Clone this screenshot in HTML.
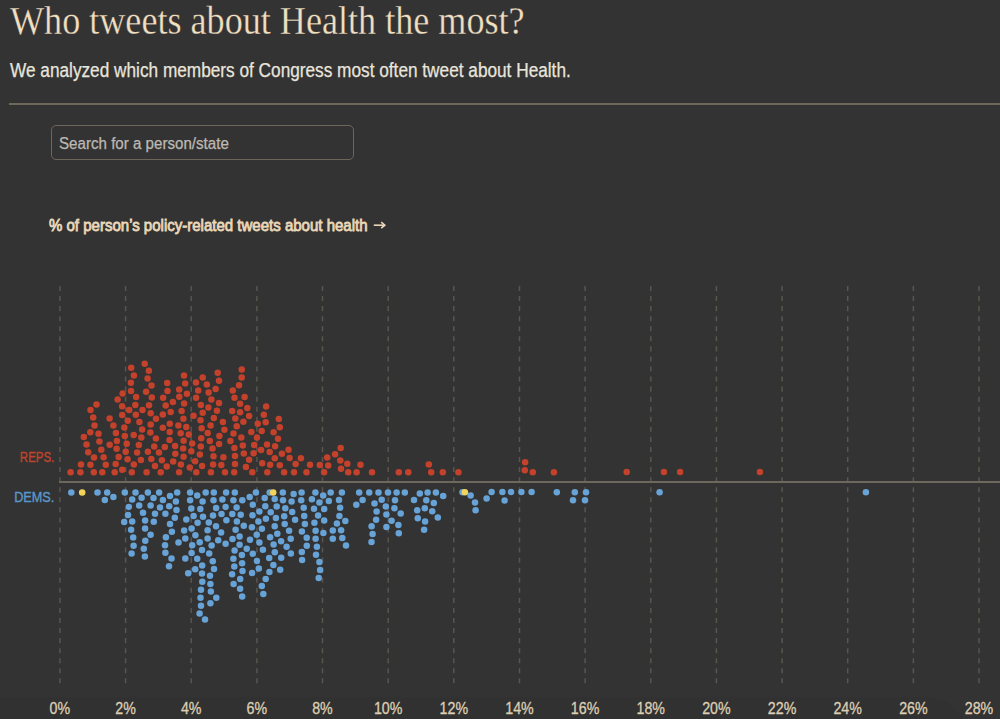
<!DOCTYPE html>
<html><head><meta charset="utf-8">
<style>
html,body{margin:0;padding:0;width:1000px;height:719px;overflow:hidden;background:#333333;}
body{position:relative;font-family:"Liberation Sans",sans-serif;}
.t{position:absolute;white-space:nowrap;transform-origin:0 0;line-height:1;}
#title{left:9.5px;top:1px;font-family:"Liberation Serif",serif;font-size:40px;color:#f1dfc1;transform:scaleX(0.903);-webkit-text-stroke:0.3px #333333;}
#sub{left:10px;top:60.7px;font-size:19.5px;color:#e9e5dd;transform:scaleX(0.8834);-webkit-text-stroke:0.25px #e9e5dd;}
#rule{position:absolute;left:9px;top:103px;width:991px;height:2px;background:#6f675c;}
#search{position:absolute;left:51px;top:125px;width:301px;height:33px;border:1.5px solid #6e665b;border-radius:5px;}
#ph{left:59px;top:136px;font-size:15.6px;color:#bdb9b2;transform:scaleX(0.97);-webkit-text-stroke:0.25px #bdb9b2;}
#axl{left:49px;top:217px;font-size:16.2px;color:#ead8b9;-webkit-text-stroke:0.8px #ead8b9;transform:scaleX(0.9276);}
</style></head><body>
<div style="position:absolute;left:-40px;top:697px;width:1008px;height:120px;background:#313131;border-top-right-radius:42px;"></div>
<div id="title" class="t">Who tweets about Health the most?</div>
<div id="sub" class="t">We analyzed which members of Congress most often tweet about Health.</div>
<div id="rule"></div>
<div id="search"></div>
<div id="ph" class="t">Search for a person/state</div>
<div id="axl" class="t">% of person’s policy-related tweets about health</div>
<svg style="position:absolute;left:372px;top:219px" width="16" height="12"><path d="M1.8 6.2 H12.4" stroke="#ead8b9" stroke-width="1.6"/><path d="M9.2 3.2 L12.8 6.2 L9.2 9.2" fill="none" stroke="#ead8b9" stroke-width="1.6"/></svg>
<svg id="chart" width="1000" height="719" style="position:absolute;left:0;top:0">
<line x1="59.9" y1="286" x2="59.9" y2="684" stroke="#5a554e" stroke-width="1.5" stroke-dasharray="5.03 5.03"/>
<line x1="125.6" y1="286" x2="125.6" y2="684" stroke="#5a554e" stroke-width="1.5" stroke-dasharray="5.03 5.03"/>
<line x1="191.2" y1="286" x2="191.2" y2="684" stroke="#5a554e" stroke-width="1.5" stroke-dasharray="5.03 5.03"/>
<line x1="256.9" y1="286" x2="256.9" y2="684" stroke="#5a554e" stroke-width="1.5" stroke-dasharray="5.03 5.03"/>
<line x1="322.5" y1="286" x2="322.5" y2="684" stroke="#5a554e" stroke-width="1.5" stroke-dasharray="5.03 5.03"/>
<line x1="388.2" y1="286" x2="388.2" y2="684" stroke="#5a554e" stroke-width="1.5" stroke-dasharray="5.03 5.03"/>
<line x1="453.8" y1="286" x2="453.8" y2="684" stroke="#5a554e" stroke-width="1.5" stroke-dasharray="5.03 5.03"/>
<line x1="519.5" y1="286" x2="519.5" y2="684" stroke="#5a554e" stroke-width="1.5" stroke-dasharray="5.03 5.03"/>
<line x1="585.1" y1="286" x2="585.1" y2="684" stroke="#5a554e" stroke-width="1.5" stroke-dasharray="5.03 5.03"/>
<line x1="650.8" y1="286" x2="650.8" y2="684" stroke="#5a554e" stroke-width="1.5" stroke-dasharray="5.03 5.03"/>
<line x1="716.4" y1="286" x2="716.4" y2="684" stroke="#5a554e" stroke-width="1.5" stroke-dasharray="5.03 5.03"/>
<line x1="782.1" y1="286" x2="782.1" y2="684" stroke="#5a554e" stroke-width="1.5" stroke-dasharray="5.03 5.03"/>
<line x1="847.7" y1="286" x2="847.7" y2="684" stroke="#5a554e" stroke-width="1.5" stroke-dasharray="5.03 5.03"/>
<line x1="913.4" y1="286" x2="913.4" y2="684" stroke="#5a554e" stroke-width="1.5" stroke-dasharray="5.03 5.03"/>
<line x1="979.0" y1="286" x2="979.0" y2="684" stroke="#5a554e" stroke-width="1.5" stroke-dasharray="5.03 5.03"/>
<line x1="59" y1="482" x2="1000" y2="482" stroke="#6e675d" stroke-width="2"/>
<text x="54.3" y="462.2" text-anchor="end" font-family="Liberation Sans" font-size="14" fill="#c0442b" stroke="#c0442b" stroke-width="0.35" transform="translate(54.3 0) scale(0.82 1) translate(-54.3 0)">REPS.</text>
<text x="54.3" y="502.4" text-anchor="end" font-family="Liberation Sans" font-size="14.5" fill="#5a98cc" stroke="#5a98cc" stroke-width="0.35" transform="translate(54.3 0) scale(0.874 1) translate(-54.3 0)">DEMS.</text>
<circle cx="70.6" cy="472.2" r="3.25" fill="#c4412b"/>
<circle cx="80.4" cy="472.2" r="3.25" fill="#c4412b"/>
<circle cx="93.8" cy="472.2" r="3.25" fill="#c4412b"/>
<circle cx="102.3" cy="472.2" r="3.25" fill="#c4412b"/>
<circle cx="114.7" cy="472.2" r="3.25" fill="#c4412b"/>
<circle cx="122.2" cy="469.7" r="3.25" fill="#c4412b"/>
<circle cx="131.8" cy="472.2" r="3.25" fill="#c4412b"/>
<circle cx="81.0" cy="464.5" r="3.25" fill="#c4412b"/>
<circle cx="90.4" cy="464.8" r="3.25" fill="#c4412b"/>
<circle cx="105.8" cy="464.8" r="3.25" fill="#c4412b"/>
<circle cx="115.7" cy="464.1" r="3.25" fill="#c4412b"/>
<circle cx="133.8" cy="464.5" r="3.25" fill="#c4412b"/>
<circle cx="94.0" cy="457.6" r="3.25" fill="#c4412b"/>
<circle cx="103.6" cy="457.2" r="3.25" fill="#c4412b"/>
<circle cx="118.7" cy="457.0" r="3.25" fill="#c4412b"/>
<circle cx="127.6" cy="459.2" r="3.25" fill="#c4412b"/>
<circle cx="88.2" cy="452.2" r="3.25" fill="#c4412b"/>
<circle cx="101.3" cy="449.7" r="3.25" fill="#c4412b"/>
<circle cx="116.6" cy="448.8" r="3.25" fill="#c4412b"/>
<circle cx="125.7" cy="451.7" r="3.25" fill="#c4412b"/>
<circle cx="86.5" cy="444.4" r="3.25" fill="#c4412b"/>
<circle cx="99.4" cy="441.6" r="3.25" fill="#c4412b"/>
<circle cx="109.7" cy="444.7" r="3.25" fill="#c4412b"/>
<circle cx="116.9" cy="441.1" r="3.25" fill="#c4412b"/>
<circle cx="126.7" cy="443.8" r="3.25" fill="#c4412b"/>
<circle cx="83.8" cy="436.9" r="3.25" fill="#c4412b"/>
<circle cx="98.5" cy="433.8" r="3.25" fill="#c4412b"/>
<circle cx="90.3" cy="432.2" r="3.25" fill="#c4412b"/>
<circle cx="115.9" cy="432.9" r="3.25" fill="#c4412b"/>
<circle cx="124.8" cy="435.9" r="3.25" fill="#c4412b"/>
<circle cx="133.7" cy="435.1" r="3.25" fill="#c4412b"/>
<circle cx="124.3" cy="427.5" r="3.25" fill="#c4412b"/>
<circle cx="94.5" cy="425.4" r="3.25" fill="#c4412b"/>
<circle cx="113.4" cy="425.4" r="3.25" fill="#c4412b"/>
<circle cx="93.2" cy="417.5" r="3.25" fill="#c4412b"/>
<circle cx="109.6" cy="418.4" r="3.25" fill="#c4412b"/>
<circle cx="122.2" cy="415.0" r="3.25" fill="#c4412b"/>
<circle cx="127.8" cy="420.7" r="3.25" fill="#c4412b"/>
<circle cx="135.8" cy="414.7" r="3.25" fill="#c4412b"/>
<circle cx="90.5" cy="410.0" r="3.25" fill="#c4412b"/>
<circle cx="129.2" cy="410.0" r="3.25" fill="#c4412b"/>
<circle cx="96.5" cy="404.6" r="3.25" fill="#c4412b"/>
<circle cx="122.1" cy="406.3" r="3.25" fill="#c4412b"/>
<circle cx="135.3" cy="405.0" r="3.25" fill="#c4412b"/>
<circle cx="117.6" cy="399.4" r="3.25" fill="#c4412b"/>
<circle cx="122.6" cy="393.4" r="3.25" fill="#c4412b"/>
<circle cx="136.1" cy="396.9" r="3.25" fill="#c4412b"/>
<circle cx="131.0" cy="391.0" r="3.25" fill="#c4412b"/>
<circle cx="146.6" cy="472.2" r="3.25" fill="#c4412b"/>
<circle cx="160.7" cy="472.2" r="3.25" fill="#c4412b"/>
<circle cx="179.1" cy="472.2" r="3.25" fill="#c4412b"/>
<circle cx="196.3" cy="472.2" r="3.25" fill="#c4412b"/>
<circle cx="155.0" cy="466.0" r="3.25" fill="#c4412b"/>
<circle cx="166.7" cy="466.6" r="3.25" fill="#c4412b"/>
<circle cx="180.9" cy="464.5" r="3.25" fill="#c4412b"/>
<circle cx="189.8" cy="467.6" r="3.25" fill="#c4412b"/>
<circle cx="202.1" cy="466.0" r="3.25" fill="#c4412b"/>
<circle cx="140.9" cy="460.1" r="3.25" fill="#c4412b"/>
<circle cx="151.3" cy="459.1" r="3.25" fill="#c4412b"/>
<circle cx="161.9" cy="460.3" r="3.25" fill="#c4412b"/>
<circle cx="173.2" cy="461.6" r="3.25" fill="#c4412b"/>
<circle cx="195.1" cy="461.3" r="3.25" fill="#c4412b"/>
<circle cx="137.1" cy="452.6" r="3.25" fill="#c4412b"/>
<circle cx="147.9" cy="451.7" r="3.25" fill="#c4412b"/>
<circle cx="159.0" cy="452.6" r="3.25" fill="#c4412b"/>
<circle cx="175.3" cy="453.8" r="3.25" fill="#c4412b"/>
<circle cx="183.6" cy="456.7" r="3.25" fill="#c4412b"/>
<circle cx="191.3" cy="451.3" r="3.25" fill="#c4412b"/>
<circle cx="199.9" cy="454.5" r="3.25" fill="#c4412b"/>
<circle cx="138.8" cy="445.1" r="3.25" fill="#c4412b"/>
<circle cx="154.2" cy="446.6" r="3.25" fill="#c4412b"/>
<circle cx="164.8" cy="446.9" r="3.25" fill="#c4412b"/>
<circle cx="175.1" cy="445.9" r="3.25" fill="#c4412b"/>
<circle cx="183.2" cy="448.6" r="3.25" fill="#c4412b"/>
<circle cx="192.2" cy="443.4" r="3.25" fill="#c4412b"/>
<circle cx="200.8" cy="446.4" r="3.25" fill="#c4412b"/>
<circle cx="141.3" cy="437.6" r="3.25" fill="#c4412b"/>
<circle cx="155.9" cy="438.6" r="3.25" fill="#c4412b"/>
<circle cx="169.5" cy="440.1" r="3.25" fill="#c4412b"/>
<circle cx="183.6" cy="440.7" r="3.25" fill="#c4412b"/>
<circle cx="201.2" cy="438.2" r="3.25" fill="#c4412b"/>
<circle cx="142.1" cy="429.4" r="3.25" fill="#c4412b"/>
<circle cx="150.4" cy="432.6" r="3.25" fill="#c4412b"/>
<circle cx="169.7" cy="431.9" r="3.25" fill="#c4412b"/>
<circle cx="180.7" cy="433.2" r="3.25" fill="#c4412b"/>
<circle cx="188.8" cy="434.4" r="3.25" fill="#c4412b"/>
<circle cx="207.7" cy="432.9" r="3.25" fill="#c4412b"/>
<circle cx="139.4" cy="421.9" r="3.25" fill="#c4412b"/>
<circle cx="150.7" cy="424.4" r="3.25" fill="#c4412b"/>
<circle cx="162.8" cy="427.8" r="3.25" fill="#c4412b"/>
<circle cx="169.8" cy="423.8" r="3.25" fill="#c4412b"/>
<circle cx="178.4" cy="425.4" r="3.25" fill="#c4412b"/>
<circle cx="186.3" cy="426.9" r="3.25" fill="#c4412b"/>
<circle cx="201.6" cy="428.2" r="3.25" fill="#c4412b"/>
<circle cx="156.0" cy="418.8" r="3.25" fill="#c4412b"/>
<circle cx="150.7" cy="413.2" r="3.25" fill="#c4412b"/>
<circle cx="162.8" cy="414.4" r="3.25" fill="#c4412b"/>
<circle cx="170.7" cy="411.9" r="3.25" fill="#c4412b"/>
<circle cx="183.4" cy="418.8" r="3.25" fill="#c4412b"/>
<circle cx="193.5" cy="415.7" r="3.25" fill="#c4412b"/>
<circle cx="200.5" cy="420.2" r="3.25" fill="#c4412b"/>
<circle cx="202.7" cy="412.8" r="3.25" fill="#c4412b"/>
<circle cx="142.5" cy="410.0" r="3.25" fill="#c4412b"/>
<circle cx="149.0" cy="405.3" r="3.25" fill="#c4412b"/>
<circle cx="165.7" cy="405.6" r="3.25" fill="#c4412b"/>
<circle cx="181.6" cy="410.9" r="3.25" fill="#c4412b"/>
<circle cx="200.8" cy="405.1" r="3.25" fill="#c4412b"/>
<circle cx="208.4" cy="407.5" r="3.25" fill="#c4412b"/>
<circle cx="151.8" cy="397.5" r="3.25" fill="#c4412b"/>
<circle cx="163.1" cy="397.7" r="3.25" fill="#c4412b"/>
<circle cx="172.9" cy="402.1" r="3.25" fill="#c4412b"/>
<circle cx="179.3" cy="396.7" r="3.25" fill="#c4412b"/>
<circle cx="184.1" cy="403.4" r="3.25" fill="#c4412b"/>
<circle cx="196.1" cy="397.8" r="3.25" fill="#c4412b"/>
<circle cx="186.9" cy="393.8" r="3.25" fill="#c4412b"/>
<circle cx="146.1" cy="391.8" r="3.25" fill="#c4412b"/>
<circle cx="167.5" cy="391.1" r="3.25" fill="#c4412b"/>
<circle cx="198.2" cy="390.6" r="3.25" fill="#c4412b"/>
<circle cx="208.6" cy="392.5" r="3.25" fill="#c4412b"/>
<circle cx="179.2" cy="389.4" r="3.25" fill="#c4412b"/>
<circle cx="210.9" cy="472.2" r="3.25" fill="#c4412b"/>
<circle cx="225.0" cy="472.2" r="3.25" fill="#c4412b"/>
<circle cx="234.2" cy="472.2" r="3.25" fill="#c4412b"/>
<circle cx="252.3" cy="472.2" r="3.25" fill="#c4412b"/>
<circle cx="267.3" cy="472.2" r="3.25" fill="#c4412b"/>
<circle cx="284.1" cy="472.2" r="3.25" fill="#c4412b"/>
<circle cx="213.1" cy="464.5" r="3.25" fill="#c4412b"/>
<circle cx="221.3" cy="465.1" r="3.25" fill="#c4412b"/>
<circle cx="235.0" cy="464.1" r="3.25" fill="#c4412b"/>
<circle cx="245.9" cy="467.0" r="3.25" fill="#c4412b"/>
<circle cx="262.2" cy="463.2" r="3.25" fill="#c4412b"/>
<circle cx="270.1" cy="464.7" r="3.25" fill="#c4412b"/>
<circle cx="279.8" cy="465.3" r="3.25" fill="#c4412b"/>
<circle cx="213.5" cy="456.3" r="3.25" fill="#c4412b"/>
<circle cx="223.4" cy="457.2" r="3.25" fill="#c4412b"/>
<circle cx="235.0" cy="456.0" r="3.25" fill="#c4412b"/>
<circle cx="249.1" cy="459.7" r="3.25" fill="#c4412b"/>
<circle cx="274.8" cy="458.2" r="3.25" fill="#c4412b"/>
<circle cx="289.6" cy="458.1" r="3.25" fill="#c4412b"/>
<circle cx="243.8" cy="453.5" r="3.25" fill="#c4412b"/>
<circle cx="253.6" cy="453.2" r="3.25" fill="#c4412b"/>
<circle cx="261.1" cy="450.1" r="3.25" fill="#c4412b"/>
<circle cx="269.7" cy="452.0" r="3.25" fill="#c4412b"/>
<circle cx="281.9" cy="453.8" r="3.25" fill="#c4412b"/>
<circle cx="288.5" cy="449.8" r="3.25" fill="#c4412b"/>
<circle cx="212.5" cy="448.4" r="3.25" fill="#c4412b"/>
<circle cx="219.1" cy="444.1" r="3.25" fill="#c4412b"/>
<circle cx="234.4" cy="447.9" r="3.25" fill="#c4412b"/>
<circle cx="242.8" cy="445.4" r="3.25" fill="#c4412b"/>
<circle cx="254.2" cy="445.1" r="3.25" fill="#c4412b"/>
<circle cx="267.0" cy="444.4" r="3.25" fill="#c4412b"/>
<circle cx="275.1" cy="446.3" r="3.25" fill="#c4412b"/>
<circle cx="209.8" cy="440.9" r="3.25" fill="#c4412b"/>
<circle cx="219.4" cy="436.1" r="3.25" fill="#c4412b"/>
<circle cx="230.4" cy="441.1" r="3.25" fill="#c4412b"/>
<circle cx="241.3" cy="437.6" r="3.25" fill="#c4412b"/>
<circle cx="256.9" cy="437.6" r="3.25" fill="#c4412b"/>
<circle cx="278.0" cy="438.8" r="3.25" fill="#c4412b"/>
<circle cx="224.4" cy="429.8" r="3.25" fill="#c4412b"/>
<circle cx="233.5" cy="433.6" r="3.25" fill="#c4412b"/>
<circle cx="251.3" cy="431.9" r="3.25" fill="#c4412b"/>
<circle cx="261.7" cy="430.9" r="3.25" fill="#c4412b"/>
<circle cx="273.6" cy="432.2" r="3.25" fill="#c4412b"/>
<circle cx="279.8" cy="427.2" r="3.25" fill="#c4412b"/>
<circle cx="210.6" cy="425.4" r="3.25" fill="#c4412b"/>
<circle cx="222.9" cy="421.9" r="3.25" fill="#c4412b"/>
<circle cx="236.7" cy="426.3" r="3.25" fill="#c4412b"/>
<circle cx="243.4" cy="421.7" r="3.25" fill="#c4412b"/>
<circle cx="257.7" cy="423.8" r="3.25" fill="#c4412b"/>
<circle cx="265.7" cy="422.3" r="3.25" fill="#c4412b"/>
<circle cx="278.8" cy="419.0" r="3.25" fill="#c4412b"/>
<circle cx="213.8" cy="417.9" r="3.25" fill="#c4412b"/>
<circle cx="235.3" cy="418.4" r="3.25" fill="#c4412b"/>
<circle cx="249.1" cy="415.9" r="3.25" fill="#c4412b"/>
<circle cx="263.8" cy="414.7" r="3.25" fill="#c4412b"/>
<circle cx="216.9" cy="410.7" r="3.25" fill="#c4412b"/>
<circle cx="232.2" cy="410.9" r="3.25" fill="#c4412b"/>
<circle cx="240.1" cy="412.2" r="3.25" fill="#c4412b"/>
<circle cx="247.3" cy="407.9" r="3.25" fill="#c4412b"/>
<circle cx="266.1" cy="406.6" r="3.25" fill="#c4412b"/>
<circle cx="219.0" cy="402.9" r="3.25" fill="#c4412b"/>
<circle cx="240.1" cy="403.8" r="3.25" fill="#c4412b"/>
<circle cx="211.4" cy="399.5" r="3.25" fill="#c4412b"/>
<circle cx="234.5" cy="397.8" r="3.25" fill="#c4412b"/>
<circle cx="244.6" cy="397.1" r="3.25" fill="#c4412b"/>
<circle cx="215.6" cy="389.0" r="3.25" fill="#c4412b"/>
<circle cx="232.8" cy="390.6" r="3.25" fill="#c4412b"/>
<circle cx="294.0" cy="472.2" r="3.25" fill="#c4412b"/>
<circle cx="306.5" cy="472.2" r="3.25" fill="#c4412b"/>
<circle cx="324.1" cy="472.2" r="3.25" fill="#c4412b"/>
<circle cx="348.2" cy="472.2" r="3.25" fill="#c4412b"/>
<circle cx="356.6" cy="472.2" r="3.25" fill="#c4412b"/>
<circle cx="295.6" cy="464.1" r="3.25" fill="#c4412b"/>
<circle cx="310.0" cy="464.7" r="3.25" fill="#c4412b"/>
<circle cx="319.8" cy="465.1" r="3.25" fill="#c4412b"/>
<circle cx="328.2" cy="465.5" r="3.25" fill="#c4412b"/>
<circle cx="341.0" cy="468.8" r="3.25" fill="#c4412b"/>
<circle cx="347.3" cy="463.8" r="3.25" fill="#c4412b"/>
<circle cx="360.5" cy="464.8" r="3.25" fill="#c4412b"/>
<circle cx="300.9" cy="458.2" r="3.25" fill="#c4412b"/>
<circle cx="327.2" cy="457.6" r="3.25" fill="#c4412b"/>
<circle cx="340.3" cy="460.5" r="3.25" fill="#c4412b"/>
<circle cx="335.1" cy="454.2" r="3.25" fill="#c4412b"/>
<circle cx="340.7" cy="447.9" r="3.25" fill="#c4412b"/>
<circle cx="372.0" cy="472.2" r="3.25" fill="#c4412b"/>
<circle cx="398.8" cy="472.2" r="3.25" fill="#c4412b"/>
<circle cx="408.3" cy="472.2" r="3.25" fill="#c4412b"/>
<circle cx="428.8" cy="464.6" r="3.25" fill="#c4412b"/>
<circle cx="431.2" cy="472.2" r="3.25" fill="#c4412b"/>
<circle cx="442.8" cy="472.2" r="3.25" fill="#c4412b"/>
<circle cx="458.4" cy="472.2" r="3.25" fill="#c4412b"/>
<circle cx="525.1" cy="462.2" r="3.25" fill="#c4412b"/>
<circle cx="524.8" cy="470.3" r="3.25" fill="#c4412b"/>
<circle cx="532.8" cy="472.3" r="3.25" fill="#c4412b"/>
<circle cx="553.9" cy="472.3" r="3.25" fill="#c4412b"/>
<circle cx="626.7" cy="472.1" r="3.25" fill="#c4412b"/>
<circle cx="663.9" cy="472.1" r="3.25" fill="#c4412b"/>
<circle cx="680.1" cy="472.1" r="3.25" fill="#c4412b"/>
<circle cx="759.9" cy="472.1" r="3.25" fill="#c4412b"/>
<circle cx="131.2" cy="367.7" r="3.25" fill="#c4412b"/>
<circle cx="133.9" cy="375.5" r="3.25" fill="#c4412b"/>
<circle cx="130.9" cy="382.7" r="3.25" fill="#c4412b"/>
<circle cx="144.7" cy="363.8" r="3.25" fill="#c4412b"/>
<circle cx="148.9" cy="370.7" r="3.25" fill="#c4412b"/>
<circle cx="147.6" cy="378.6" r="3.25" fill="#c4412b"/>
<circle cx="151.5" cy="385.6" r="3.25" fill="#c4412b"/>
<circle cx="167.2" cy="383.0" r="3.25" fill="#c4412b"/>
<circle cx="184.0" cy="375.5" r="3.25" fill="#c4412b"/>
<circle cx="185.2" cy="383.5" r="3.25" fill="#c4412b"/>
<circle cx="196.0" cy="382.5" r="3.25" fill="#c4412b"/>
<circle cx="202.7" cy="377.5" r="3.25" fill="#c4412b"/>
<circle cx="206.8" cy="384.5" r="3.25" fill="#c4412b"/>
<circle cx="217.7" cy="372.7" r="3.25" fill="#c4412b"/>
<circle cx="219.0" cy="380.7" r="3.25" fill="#c4412b"/>
<circle cx="241.7" cy="369.5" r="3.25" fill="#c4412b"/>
<circle cx="241.7" cy="377.5" r="3.25" fill="#c4412b"/>
<circle cx="239.0" cy="385.2" r="3.25" fill="#c4412b"/>
<circle cx="71.3" cy="492.4" r="3.25" fill="#67a3d6"/>
<circle cx="97.5" cy="492.4" r="3.25" fill="#67a3d6"/>
<circle cx="107.2" cy="492.4" r="3.25" fill="#67a3d6"/>
<circle cx="124.8" cy="492.4" r="3.25" fill="#67a3d6"/>
<circle cx="135.5" cy="492.4" r="3.25" fill="#67a3d6"/>
<circle cx="147.9" cy="492.4" r="3.25" fill="#67a3d6"/>
<circle cx="113.4" cy="497.1" r="3.25" fill="#67a3d6"/>
<circle cx="141.6" cy="497.8" r="3.25" fill="#67a3d6"/>
<circle cx="104.8" cy="500.0" r="3.25" fill="#67a3d6"/>
<circle cx="132.2" cy="499.6" r="3.25" fill="#67a3d6"/>
<circle cx="128.8" cy="506.9" r="3.25" fill="#67a3d6"/>
<circle cx="139.2" cy="505.5" r="3.25" fill="#67a3d6"/>
<circle cx="128.0" cy="514.9" r="3.25" fill="#67a3d6"/>
<circle cx="143.0" cy="512.8" r="3.25" fill="#67a3d6"/>
<circle cx="124.2" cy="521.9" r="3.25" fill="#67a3d6"/>
<circle cx="132.2" cy="521.5" r="3.25" fill="#67a3d6"/>
<circle cx="145.1" cy="520.5" r="3.25" fill="#67a3d6"/>
<circle cx="131.1" cy="529.7" r="3.25" fill="#67a3d6"/>
<circle cx="145.1" cy="528.4" r="3.25" fill="#67a3d6"/>
<circle cx="133.2" cy="537.6" r="3.25" fill="#67a3d6"/>
<circle cx="145.3" cy="540.8" r="3.25" fill="#67a3d6"/>
<circle cx="133.6" cy="545.7" r="3.25" fill="#67a3d6"/>
<circle cx="143.8" cy="548.7" r="3.25" fill="#67a3d6"/>
<circle cx="131.6" cy="553.5" r="3.25" fill="#67a3d6"/>
<circle cx="144.9" cy="556.6" r="3.25" fill="#67a3d6"/>
<circle cx="153.5" cy="498.1" r="3.25" fill="#67a3d6"/>
<circle cx="150.6" cy="505.5" r="3.25" fill="#67a3d6"/>
<circle cx="155.0" cy="513.7" r="3.25" fill="#67a3d6"/>
<circle cx="153.8" cy="521.8" r="3.25" fill="#67a3d6"/>
<circle cx="150.6" cy="534.7" r="3.25" fill="#67a3d6"/>
<circle cx="159.1" cy="492.4" r="3.25" fill="#67a3d6"/>
<circle cx="162.9" cy="499.9" r="3.25" fill="#67a3d6"/>
<circle cx="160.0" cy="507.4" r="3.25" fill="#67a3d6"/>
<circle cx="165.4" cy="513.7" r="3.25" fill="#67a3d6"/>
<circle cx="165.9" cy="537.2" r="3.25" fill="#67a3d6"/>
<circle cx="165.0" cy="545.3" r="3.25" fill="#67a3d6"/>
<circle cx="165.4" cy="552.8" r="3.25" fill="#67a3d6"/>
<circle cx="169.0" cy="566.2" r="3.25" fill="#67a3d6"/>
<circle cx="170.0" cy="496.1" r="3.25" fill="#67a3d6"/>
<circle cx="177.2" cy="492.4" r="3.25" fill="#67a3d6"/>
<circle cx="175.9" cy="501.5" r="3.25" fill="#67a3d6"/>
<circle cx="169.2" cy="506.2" r="3.25" fill="#67a3d6"/>
<circle cx="176.5" cy="509.9" r="3.25" fill="#67a3d6"/>
<circle cx="174.8" cy="517.8" r="3.25" fill="#67a3d6"/>
<circle cx="170.0" cy="524.1" r="3.25" fill="#67a3d6"/>
<circle cx="171.9" cy="531.8" r="3.25" fill="#67a3d6"/>
<circle cx="178.5" cy="542.6" r="3.25" fill="#67a3d6"/>
<circle cx="171.5" cy="558.5" r="3.25" fill="#67a3d6"/>
<circle cx="190.1" cy="492.4" r="3.25" fill="#67a3d6"/>
<circle cx="190.1" cy="500.3" r="3.25" fill="#67a3d6"/>
<circle cx="191.3" cy="508.4" r="3.25" fill="#67a3d6"/>
<circle cx="186.3" cy="519.4" r="3.25" fill="#67a3d6"/>
<circle cx="193.6" cy="515.9" r="3.25" fill="#67a3d6"/>
<circle cx="184.1" cy="530.6" r="3.25" fill="#67a3d6"/>
<circle cx="191.6" cy="528.4" r="3.25" fill="#67a3d6"/>
<circle cx="185.3" cy="538.4" r="3.25" fill="#67a3d6"/>
<circle cx="192.2" cy="545.3" r="3.25" fill="#67a3d6"/>
<circle cx="191.6" cy="553.1" r="3.25" fill="#67a3d6"/>
<circle cx="185.3" cy="558.5" r="3.25" fill="#67a3d6"/>
<circle cx="197.2" cy="495.5" r="3.25" fill="#67a3d6"/>
<circle cx="202.6" cy="501.5" r="3.25" fill="#67a3d6"/>
<circle cx="200.3" cy="509.0" r="3.25" fill="#67a3d6"/>
<circle cx="203.0" cy="516.8" r="3.25" fill="#67a3d6"/>
<circle cx="197.6" cy="522.8" r="3.25" fill="#67a3d6"/>
<circle cx="195.4" cy="535.3" r="3.25" fill="#67a3d6"/>
<circle cx="199.7" cy="542.2" r="3.25" fill="#67a3d6"/>
<circle cx="202.0" cy="550.0" r="3.25" fill="#67a3d6"/>
<circle cx="197.2" cy="558.8" r="3.25" fill="#67a3d6"/>
<circle cx="195.2" cy="569.2" r="3.25" fill="#67a3d6"/>
<circle cx="202.2" cy="565.4" r="3.25" fill="#67a3d6"/>
<circle cx="205.7" cy="492.4" r="3.25" fill="#67a3d6"/>
<circle cx="213.8" cy="492.4" r="3.25" fill="#67a3d6"/>
<circle cx="213.5" cy="500.3" r="3.25" fill="#67a3d6"/>
<circle cx="216.1" cy="508.0" r="3.25" fill="#67a3d6"/>
<circle cx="213.0" cy="515.5" r="3.25" fill="#67a3d6"/>
<circle cx="208.8" cy="522.4" r="3.25" fill="#67a3d6"/>
<circle cx="207.6" cy="530.3" r="3.25" fill="#67a3d6"/>
<circle cx="207.6" cy="538.4" r="3.25" fill="#67a3d6"/>
<circle cx="211.6" cy="545.6" r="3.25" fill="#67a3d6"/>
<circle cx="209.2" cy="553.5" r="3.25" fill="#67a3d6"/>
<circle cx="212.8" cy="561.2" r="3.25" fill="#67a3d6"/>
<circle cx="214.0" cy="568.9" r="3.25" fill="#67a3d6"/>
<circle cx="226.1" cy="492.4" r="3.25" fill="#67a3d6"/>
<circle cx="222.4" cy="499.6" r="3.25" fill="#67a3d6"/>
<circle cx="225.6" cy="506.9" r="3.25" fill="#67a3d6"/>
<circle cx="221.5" cy="514.0" r="3.25" fill="#67a3d6"/>
<circle cx="226.4" cy="520.3" r="3.25" fill="#67a3d6"/>
<circle cx="216.0" cy="526.2" r="3.25" fill="#67a3d6"/>
<circle cx="221.1" cy="532.4" r="3.25" fill="#67a3d6"/>
<circle cx="218.2" cy="540.3" r="3.25" fill="#67a3d6"/>
<circle cx="225.6" cy="543.8" r="3.25" fill="#67a3d6"/>
<circle cx="234.8" cy="492.4" r="3.25" fill="#67a3d6"/>
<circle cx="233.4" cy="500.3" r="3.25" fill="#67a3d6"/>
<circle cx="236.6" cy="507.4" r="3.25" fill="#67a3d6"/>
<circle cx="232.3" cy="514.0" r="3.25" fill="#67a3d6"/>
<circle cx="236.9" cy="521.5" r="3.25" fill="#67a3d6"/>
<circle cx="235.6" cy="529.7" r="3.25" fill="#67a3d6"/>
<circle cx="232.5" cy="539.1" r="3.25" fill="#67a3d6"/>
<circle cx="239.6" cy="536.6" r="3.25" fill="#67a3d6"/>
<circle cx="239.6" cy="544.7" r="3.25" fill="#67a3d6"/>
<circle cx="234.6" cy="550.6" r="3.25" fill="#67a3d6"/>
<circle cx="233.4" cy="558.7" r="3.25" fill="#67a3d6"/>
<circle cx="234.3" cy="566.6" r="3.25" fill="#67a3d6"/>
<circle cx="242.3" cy="500.3" r="3.25" fill="#67a3d6"/>
<circle cx="240.7" cy="514.7" r="3.25" fill="#67a3d6"/>
<circle cx="243.8" cy="525.7" r="3.25" fill="#67a3d6"/>
<circle cx="246.7" cy="548.8" r="3.25" fill="#67a3d6"/>
<circle cx="241.9" cy="555.1" r="3.25" fill="#67a3d6"/>
<circle cx="242.1" cy="563.3" r="3.25" fill="#67a3d6"/>
<circle cx="242.5" cy="571.1" r="3.25" fill="#67a3d6"/>
<circle cx="249.7" cy="497.1" r="3.25" fill="#67a3d6"/>
<circle cx="252.8" cy="504.7" r="3.25" fill="#67a3d6"/>
<circle cx="252.5" cy="515.3" r="3.25" fill="#67a3d6"/>
<circle cx="251.9" cy="527.2" r="3.25" fill="#67a3d6"/>
<circle cx="250.0" cy="539.7" r="3.25" fill="#67a3d6"/>
<circle cx="252.8" cy="553.7" r="3.25" fill="#67a3d6"/>
<circle cx="255.9" cy="492.4" r="3.25" fill="#67a3d6"/>
<circle cx="259.4" cy="511.5" r="3.25" fill="#67a3d6"/>
<circle cx="258.4" cy="521.5" r="3.25" fill="#67a3d6"/>
<circle cx="261.9" cy="528.8" r="3.25" fill="#67a3d6"/>
<circle cx="256.7" cy="534.7" r="3.25" fill="#67a3d6"/>
<circle cx="259.4" cy="542.6" r="3.25" fill="#67a3d6"/>
<circle cx="262.9" cy="549.7" r="3.25" fill="#67a3d6"/>
<circle cx="256.9" cy="561.0" r="3.25" fill="#67a3d6"/>
<circle cx="258.8" cy="568.5" r="3.25" fill="#67a3d6"/>
<circle cx="264.7" cy="498.1" r="3.25" fill="#67a3d6"/>
<circle cx="265.3" cy="506.2" r="3.25" fill="#67a3d6"/>
<circle cx="265.9" cy="518.7" r="3.25" fill="#67a3d6"/>
<circle cx="269.7" cy="492.4" r="3.25" fill="#67a3d6"/>
<circle cx="274.7" cy="499.0" r="3.25" fill="#67a3d6"/>
<circle cx="276.7" cy="506.5" r="3.25" fill="#67a3d6"/>
<circle cx="270.7" cy="512.2" r="3.25" fill="#67a3d6"/>
<circle cx="275.9" cy="518.0" r="3.25" fill="#67a3d6"/>
<circle cx="274.7" cy="526.2" r="3.25" fill="#67a3d6"/>
<circle cx="277.3" cy="533.7" r="3.25" fill="#67a3d6"/>
<circle cx="270.1" cy="537.2" r="3.25" fill="#67a3d6"/>
<circle cx="273.6" cy="544.5" r="3.25" fill="#67a3d6"/>
<circle cx="274.8" cy="552.2" r="3.25" fill="#67a3d6"/>
<circle cx="269.2" cy="558.1" r="3.25" fill="#67a3d6"/>
<circle cx="273.4" cy="565.0" r="3.25" fill="#67a3d6"/>
<circle cx="282.8" cy="492.4" r="3.25" fill="#67a3d6"/>
<circle cx="283.0" cy="500.3" r="3.25" fill="#67a3d6"/>
<circle cx="285.3" cy="508.2" r="3.25" fill="#67a3d6"/>
<circle cx="284.2" cy="516.2" r="3.25" fill="#67a3d6"/>
<circle cx="284.7" cy="524.1" r="3.25" fill="#67a3d6"/>
<circle cx="289.1" cy="530.7" r="3.25" fill="#67a3d6"/>
<circle cx="281.1" cy="541.2" r="3.25" fill="#67a3d6"/>
<circle cx="290.7" cy="538.7" r="3.25" fill="#67a3d6"/>
<circle cx="286.6" cy="546.7" r="3.25" fill="#67a3d6"/>
<circle cx="290.8" cy="553.5" r="3.25" fill="#67a3d6"/>
<circle cx="281.2" cy="557.8" r="3.25" fill="#67a3d6"/>
<circle cx="280.2" cy="569.7" r="3.25" fill="#67a3d6"/>
<circle cx="293.6" cy="494.0" r="3.25" fill="#67a3d6"/>
<circle cx="291.6" cy="501.5" r="3.25" fill="#67a3d6"/>
<circle cx="292.2" cy="511.9" r="3.25" fill="#67a3d6"/>
<circle cx="295.1" cy="519.7" r="3.25" fill="#67a3d6"/>
<circle cx="301.6" cy="492.4" r="3.25" fill="#67a3d6"/>
<circle cx="301.2" cy="500.3" r="3.25" fill="#67a3d6"/>
<circle cx="303.7" cy="507.8" r="3.25" fill="#67a3d6"/>
<circle cx="304.2" cy="515.9" r="3.25" fill="#67a3d6"/>
<circle cx="304.9" cy="523.9" r="3.25" fill="#67a3d6"/>
<circle cx="301.9" cy="531.6" r="3.25" fill="#67a3d6"/>
<circle cx="306.7" cy="537.8" r="3.25" fill="#67a3d6"/>
<circle cx="306.8" cy="545.7" r="3.25" fill="#67a3d6"/>
<circle cx="301.8" cy="552.0" r="3.25" fill="#67a3d6"/>
<circle cx="302.1" cy="560.0" r="3.25" fill="#67a3d6"/>
<circle cx="315.4" cy="492.4" r="3.25" fill="#67a3d6"/>
<circle cx="311.9" cy="499.3" r="3.25" fill="#67a3d6"/>
<circle cx="314.0" cy="508.7" r="3.25" fill="#67a3d6"/>
<circle cx="318.1" cy="515.5" r="3.25" fill="#67a3d6"/>
<circle cx="314.4" cy="522.8" r="3.25" fill="#67a3d6"/>
<circle cx="315.6" cy="530.7" r="3.25" fill="#67a3d6"/>
<circle cx="315.6" cy="538.7" r="3.25" fill="#67a3d6"/>
<circle cx="316.9" cy="546.7" r="3.25" fill="#67a3d6"/>
<circle cx="316.0" cy="554.7" r="3.25" fill="#67a3d6"/>
<circle cx="319.4" cy="562.1" r="3.25" fill="#67a3d6"/>
<circle cx="320.1" cy="570.0" r="3.25" fill="#67a3d6"/>
<circle cx="323.2" cy="495.5" r="3.25" fill="#67a3d6"/>
<circle cx="319.4" cy="502.5" r="3.25" fill="#67a3d6"/>
<circle cx="324.2" cy="509.0" r="3.25" fill="#67a3d6"/>
<circle cx="324.2" cy="520.5" r="3.25" fill="#67a3d6"/>
<circle cx="323.4" cy="533.1" r="3.25" fill="#67a3d6"/>
<circle cx="330.7" cy="492.4" r="3.25" fill="#67a3d6"/>
<circle cx="328.8" cy="501.1" r="3.25" fill="#67a3d6"/>
<circle cx="332.8" cy="530.6" r="3.25" fill="#67a3d6"/>
<circle cx="332.8" cy="538.7" r="3.25" fill="#67a3d6"/>
<circle cx="341.9" cy="492.4" r="3.25" fill="#67a3d6"/>
<circle cx="339.0" cy="499.9" r="3.25" fill="#67a3d6"/>
<circle cx="340.1" cy="507.8" r="3.25" fill="#67a3d6"/>
<circle cx="339.4" cy="515.9" r="3.25" fill="#67a3d6"/>
<circle cx="336.9" cy="523.4" r="3.25" fill="#67a3d6"/>
<circle cx="345.3" cy="520.9" r="3.25" fill="#67a3d6"/>
<circle cx="341.1" cy="530.3" r="3.25" fill="#67a3d6"/>
<circle cx="342.3" cy="538.1" r="3.25" fill="#67a3d6"/>
<circle cx="346.0" cy="545.4" r="3.25" fill="#67a3d6"/>
<circle cx="359.2" cy="492.4" r="3.25" fill="#67a3d6"/>
<circle cx="369.2" cy="492.4" r="3.25" fill="#67a3d6"/>
<circle cx="378.5" cy="492.4" r="3.25" fill="#67a3d6"/>
<circle cx="388.0" cy="492.4" r="3.25" fill="#67a3d6"/>
<circle cx="362.6" cy="499.9" r="3.25" fill="#67a3d6"/>
<circle cx="356.3" cy="504.7" r="3.25" fill="#67a3d6"/>
<circle cx="381.7" cy="499.8" r="3.25" fill="#67a3d6"/>
<circle cx="374.5" cy="503.6" r="3.25" fill="#67a3d6"/>
<circle cx="376.6" cy="511.5" r="3.25" fill="#67a3d6"/>
<circle cx="376.1" cy="519.7" r="3.25" fill="#67a3d6"/>
<circle cx="371.6" cy="526.3" r="3.25" fill="#67a3d6"/>
<circle cx="372.6" cy="534.1" r="3.25" fill="#67a3d6"/>
<circle cx="371.5" cy="541.9" r="3.25" fill="#67a3d6"/>
<circle cx="385.8" cy="506.5" r="3.25" fill="#67a3d6"/>
<circle cx="386.4" cy="514.4" r="3.25" fill="#67a3d6"/>
<circle cx="386.4" cy="526.9" r="3.25" fill="#67a3d6"/>
<circle cx="396.6" cy="492.4" r="3.25" fill="#67a3d6"/>
<circle cx="404.8" cy="492.4" r="3.25" fill="#67a3d6"/>
<circle cx="419.8" cy="493.6" r="3.25" fill="#67a3d6"/>
<circle cx="427.6" cy="492.4" r="3.25" fill="#67a3d6"/>
<circle cx="435.9" cy="492.4" r="3.25" fill="#67a3d6"/>
<circle cx="443.2" cy="495.9" r="3.25" fill="#67a3d6"/>
<circle cx="395.0" cy="500.3" r="3.25" fill="#67a3d6"/>
<circle cx="414.0" cy="499.9" r="3.25" fill="#67a3d6"/>
<circle cx="426.3" cy="500.3" r="3.25" fill="#67a3d6"/>
<circle cx="433.8" cy="503.1" r="3.25" fill="#67a3d6"/>
<circle cx="394.4" cy="508.2" r="3.25" fill="#67a3d6"/>
<circle cx="417.2" cy="510.3" r="3.25" fill="#67a3d6"/>
<circle cx="424.8" cy="508.2" r="3.25" fill="#67a3d6"/>
<circle cx="432.2" cy="511.3" r="3.25" fill="#67a3d6"/>
<circle cx="400.7" cy="513.4" r="3.25" fill="#67a3d6"/>
<circle cx="417.8" cy="518.2" r="3.25" fill="#67a3d6"/>
<circle cx="437.8" cy="517.5" r="3.25" fill="#67a3d6"/>
<circle cx="391.6" cy="520.7" r="3.25" fill="#67a3d6"/>
<circle cx="425.1" cy="521.5" r="3.25" fill="#67a3d6"/>
<circle cx="398.4" cy="525.1" r="3.25" fill="#67a3d6"/>
<circle cx="424.1" cy="529.7" r="3.25" fill="#67a3d6"/>
<circle cx="398.8" cy="533.2" r="3.25" fill="#67a3d6"/>
<circle cx="462.5" cy="492.2" r="3.25" fill="#67a3d6"/>
<circle cx="470.6" cy="495.6" r="3.25" fill="#67a3d6"/>
<circle cx="475.0" cy="502.4" r="3.25" fill="#67a3d6"/>
<circle cx="475.6" cy="510.2" r="3.25" fill="#67a3d6"/>
<circle cx="486.6" cy="498.6" r="3.25" fill="#67a3d6"/>
<circle cx="491.6" cy="492.0" r="3.25" fill="#67a3d6"/>
<circle cx="502.4" cy="492.0" r="3.25" fill="#67a3d6"/>
<circle cx="504.6" cy="500.4" r="3.25" fill="#67a3d6"/>
<circle cx="511.0" cy="492.0" r="3.25" fill="#67a3d6"/>
<circle cx="521.4" cy="492.0" r="3.25" fill="#67a3d6"/>
<circle cx="531.6" cy="492.0" r="3.25" fill="#67a3d6"/>
<circle cx="556.8" cy="492.2" r="3.25" fill="#67a3d6"/>
<circle cx="574.8" cy="492.2" r="3.25" fill="#67a3d6"/>
<circle cx="573.0" cy="500.2" r="3.25" fill="#67a3d6"/>
<circle cx="586.0" cy="492.2" r="3.25" fill="#67a3d6"/>
<circle cx="585.0" cy="500.2" r="3.25" fill="#67a3d6"/>
<circle cx="659.6" cy="492.3" r="3.25" fill="#67a3d6"/>
<circle cx="865.9" cy="492.3" r="3.25" fill="#67a3d6"/>
<circle cx="188.2" cy="573.3" r="3.25" fill="#67a3d6"/>
<circle cx="202.0" cy="573.6" r="3.25" fill="#67a3d6"/>
<circle cx="202.3" cy="581.7" r="3.25" fill="#67a3d6"/>
<circle cx="201.0" cy="589.7" r="3.25" fill="#67a3d6"/>
<circle cx="200.5" cy="597.7" r="3.25" fill="#67a3d6"/>
<circle cx="201.0" cy="605.8" r="3.25" fill="#67a3d6"/>
<circle cx="199.6" cy="613.6" r="3.25" fill="#67a3d6"/>
<circle cx="205.0" cy="619.6" r="3.25" fill="#67a3d6"/>
<circle cx="210.0" cy="575.8" r="3.25" fill="#67a3d6"/>
<circle cx="210.4" cy="583.9" r="3.25" fill="#67a3d6"/>
<circle cx="210.9" cy="591.6" r="3.25" fill="#67a3d6"/>
<circle cx="216.3" cy="597.8" r="3.25" fill="#67a3d6"/>
<circle cx="210.4" cy="603.3" r="3.25" fill="#67a3d6"/>
<circle cx="232.1" cy="574.3" r="3.25" fill="#67a3d6"/>
<circle cx="240.2" cy="579.0" r="3.25" fill="#67a3d6"/>
<circle cx="233.6" cy="583.9" r="3.25" fill="#67a3d6"/>
<circle cx="240.1" cy="588.7" r="3.25" fill="#67a3d6"/>
<circle cx="242.2" cy="596.5" r="3.25" fill="#67a3d6"/>
<circle cx="252.1" cy="573.1" r="3.25" fill="#67a3d6"/>
<circle cx="269.4" cy="572.0" r="3.25" fill="#67a3d6"/>
<circle cx="265.7" cy="579.0" r="3.25" fill="#67a3d6"/>
<circle cx="261.8" cy="586.1" r="3.25" fill="#67a3d6"/>
<circle cx="263.3" cy="594.1" r="3.25" fill="#67a3d6"/>
<circle cx="318.7" cy="578.0" r="3.25" fill="#67a3d6"/>
<circle cx="82.2" cy="492.4" r="3.25" fill="#f3d55c"/>
<circle cx="273.2" cy="492.4" r="3.25" fill="#f3d55c"/>
<circle cx="464.9" cy="492.2" r="3.25" fill="#f3d55c"/>
<text x="59.9" y="714.2" text-anchor="middle" font-family="Liberation Sans" font-size="16" fill="#ddceb3" stroke="#ddceb3" stroke-width="0.3" transform="translate(59.9 0) scale(0.89 1) translate(-59.9 0)">0%</text>
<text x="125.6" y="714.2" text-anchor="middle" font-family="Liberation Sans" font-size="16" fill="#ddceb3" stroke="#ddceb3" stroke-width="0.3" transform="translate(125.6 0) scale(0.89 1) translate(-125.6 0)">2%</text>
<text x="191.2" y="714.2" text-anchor="middle" font-family="Liberation Sans" font-size="16" fill="#ddceb3" stroke="#ddceb3" stroke-width="0.3" transform="translate(191.2 0) scale(0.89 1) translate(-191.2 0)">4%</text>
<text x="256.9" y="714.2" text-anchor="middle" font-family="Liberation Sans" font-size="16" fill="#ddceb3" stroke="#ddceb3" stroke-width="0.3" transform="translate(256.9 0) scale(0.89 1) translate(-256.9 0)">6%</text>
<text x="322.5" y="714.2" text-anchor="middle" font-family="Liberation Sans" font-size="16" fill="#ddceb3" stroke="#ddceb3" stroke-width="0.3" transform="translate(322.5 0) scale(0.89 1) translate(-322.5 0)">8%</text>
<text x="388.2" y="714.2" text-anchor="middle" font-family="Liberation Sans" font-size="16" fill="#ddceb3" stroke="#ddceb3" stroke-width="0.3" transform="translate(388.2 0) scale(0.89 1) translate(-388.2 0)">10%</text>
<text x="453.8" y="714.2" text-anchor="middle" font-family="Liberation Sans" font-size="16" fill="#ddceb3" stroke="#ddceb3" stroke-width="0.3" transform="translate(453.8 0) scale(0.89 1) translate(-453.8 0)">12%</text>
<text x="519.5" y="714.2" text-anchor="middle" font-family="Liberation Sans" font-size="16" fill="#ddceb3" stroke="#ddceb3" stroke-width="0.3" transform="translate(519.5 0) scale(0.89 1) translate(-519.5 0)">14%</text>
<text x="585.1" y="714.2" text-anchor="middle" font-family="Liberation Sans" font-size="16" fill="#ddceb3" stroke="#ddceb3" stroke-width="0.3" transform="translate(585.1 0) scale(0.89 1) translate(-585.1 0)">16%</text>
<text x="650.8" y="714.2" text-anchor="middle" font-family="Liberation Sans" font-size="16" fill="#ddceb3" stroke="#ddceb3" stroke-width="0.3" transform="translate(650.8 0) scale(0.89 1) translate(-650.8 0)">18%</text>
<text x="716.4" y="714.2" text-anchor="middle" font-family="Liberation Sans" font-size="16" fill="#ddceb3" stroke="#ddceb3" stroke-width="0.3" transform="translate(716.4 0) scale(0.89 1) translate(-716.4 0)">20%</text>
<text x="782.1" y="714.2" text-anchor="middle" font-family="Liberation Sans" font-size="16" fill="#ddceb3" stroke="#ddceb3" stroke-width="0.3" transform="translate(782.1 0) scale(0.89 1) translate(-782.1 0)">22%</text>
<text x="847.7" y="714.2" text-anchor="middle" font-family="Liberation Sans" font-size="16" fill="#ddceb3" stroke="#ddceb3" stroke-width="0.3" transform="translate(847.7 0) scale(0.89 1) translate(-847.7 0)">24%</text>
<text x="913.4" y="714.2" text-anchor="middle" font-family="Liberation Sans" font-size="16" fill="#ddceb3" stroke="#ddceb3" stroke-width="0.3" transform="translate(913.4 0) scale(0.89 1) translate(-913.4 0)">26%</text>
<text x="979.0" y="714.2" text-anchor="middle" font-family="Liberation Sans" font-size="16" fill="#ddceb3" stroke="#ddceb3" stroke-width="0.3" transform="translate(979.0 0) scale(0.89 1) translate(-979.0 0)">28%</text>
</svg>
<!--TICKS-->
</body></html>
